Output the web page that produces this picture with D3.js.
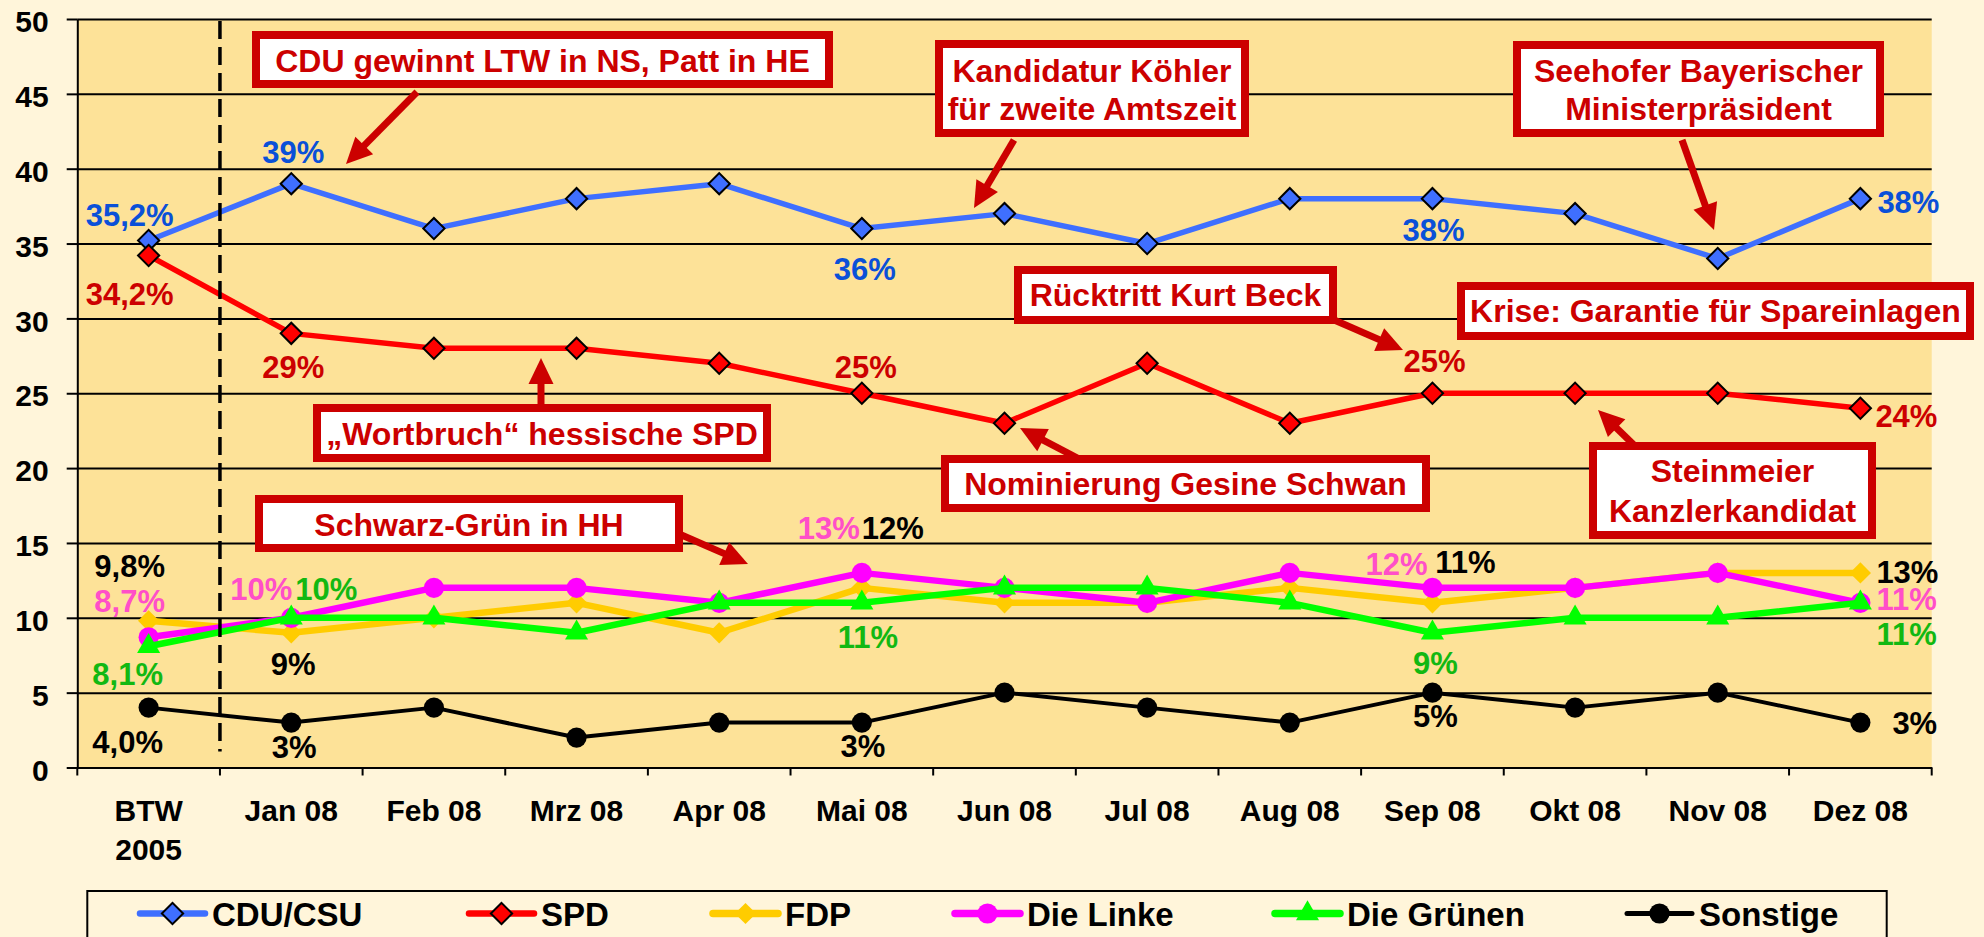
<!DOCTYPE html>
<html>
<head>
<meta charset="utf-8">
<script src="https://cdn.jsdelivr.net/npm/d3@7"></script>
<style>
  body { margin: 0; background: #FFF5DA; }
  svg { display: block; font-family: "Liberation Sans", Arial, sans-serif; font-weight: bold; }
</style>
</head>
<body>
<svg id="chart" width="1984" height="937"></svg>
<script>
// --- data ---
const categories = ["BTW\n2005", "Jan 08", "Feb 08", "Mrz 08", "Apr 08", "Mai 08", "Jun 08",
                    "Jul 08", "Aug 08", "Sep 08", "Okt 08", "Nov 08", "Dez 08"];
const yTicks = [0, 5, 10, 15, 20, 25, 30, 35, 40, 45, 50];

const cduCsu   = [35.2, 39, 36, 38, 39, 36, 37, 35, 38, 38, 37, 34, 38];
const spd      = [34.2, 29, 28, 28, 27, 25, 23, 27, 23, 25, 25, 25, 24];
const fdp      = [9.8, 9, 10, 11, 9, 12, 11, 11, 12, 11, 12, 13, 13];
const dieLinke = [8.7, 10, 12, 12, 11, 13, 12, 11, 13, 12, 12, 13, 11];
const gruene   = [8.1, 10, 10, 9, 11, 11, 12, 12, 11, 9, 10, 10, 11];
const sonstige = [4.0, 3, 4, 2, 3, 3, 5, 4, 3, 5, 4, 5, 3];

const seriesNames = ["CDU/CSU", "SPD", "FDP", "Die Linke", "Die Grünen", "Sonstige"];

const W = 1984, H = 937;
const PLOT = { left: 77.3, right: 1931.7, top: 19, bottom: 767.5 };

// styles per series
const series = [
  { name: seriesNames[0], values: cduCsu,   color: '#3F6FFF', label: '#0A50D8', width: 5.5, marker: 'diamond', stroke: '#000' },
  { name: seriesNames[1], values: spd,      color: '#FF0000', label: '#CC0000', width: 5.5, marker: 'diamond', stroke: '#000' },
  { name: seriesNames[2], values: fdp,      color: '#FFCC00', label: '#000000', width: 6.5, marker: 'diamond', stroke: 'none' },
  { name: seriesNames[3], values: dieLinke, color: '#FF00FF', label: '#FF4FC8', width: 6.5, marker: 'circle',  stroke: 'none' },
  { name: seriesNames[4], values: gruene,   color: '#00FF00', label: '#12B812', width: 6.5, marker: 'triangle', stroke: 'none' },
  { name: seriesNames[5], values: sonstige, color: '#000000', label: '#000000', width: 4,   marker: 'circle',  stroke: 'none' }
];

// value label placement: [series index, category index, dx, dy, anchor]
const labelLayout = [
  [0, 0, -19, -15, 'middle'], [0, 1, 2, -21, 'middle'], [0, 5, 3, 51, 'middle'], [0, 9, 1, 42, 'middle'], [0, 12, 17, 14, 'start'],
  [1, 0, -19, 49, 'middle'], [1, 1, 2, 45, 'middle'], [1, 5, 4, -15, 'middle'], [1, 9, 2, -21, 'middle'], [1, 12, 15, 19, 'start'],
  [2, 0, -19, -44, 'middle'], [2, 1, 2, 42, 'middle'], [2, 5, 31, -49, 'middle'], [2, 9, 33, -30, 'middle'], [2, 12, 16, 10, 'start'],
  [3, 0, -19, -25, 'middle'], [3, 1, -30, -17.5, 'middle'], [3, 5, -33, -34, 'middle'], [3, 9, -36, -13, 'middle'], [3, 12, 16, 7, 'start'],
  [4, 0, -21, 39, 'middle'], [4, 1, 35, -17.5, 'middle'], [4, 5, 6, 45.5, 'middle'], [4, 9, 3, 41, 'middle'], [4, 12, 16, 42, 'start'],
  [5, 0, -21, 45, 'middle'], [5, 1, 3, 35, 'middle'], [5, 5, 1, 34, 'middle'], [5, 9, 3, 34, 'middle'], [5, 12, 32, 11, 'start']
];

// annotation boxes: outer box [x0, y0, x1, y1], text lines, baselines
const notes = [
  { box: [252, 31, 833, 88],    lines: ["CDU gewinnt LTW in NS, Patt in HE"], base: [71.5] },
  { box: [935, 40, 1249, 137],  lines: ["Kandidatur Köhler", "für zweite Amtszeit"], base: [81.5, 119.5] },
  { box: [1513, 41, 1884, 137], lines: ["Seehofer Bayerischer", "Ministerpräsident"], base: [81.5, 119.5] },
  { box: [1014, 266, 1337, 324], lines: ["Rücktritt Kurt Beck"], base: [306] },
  { box: [1457, 282, 1974, 340], lines: ["Krise: Garantie für Spareinlagen"], base: [322] },
  { box: [313, 404, 771, 462],  lines: ["\u201EWortbruch\u201C hessische SPD"], base: [444.5] },
  { box: [255, 495, 683, 552],  lines: ["Schwarz-Grün in HH"], base: [536] },
  { box: [941, 455, 1430, 512], lines: ["Nominierung Gesine Schwan"], base: [495] },
  { box: [1589, 442, 1876, 539], lines: ["Steinmeier", "Kanzlerkandidat"], base: [482, 521.5] }
];
// arrows: tail -> tip
const arrows = [
  [417, 92, 346, 164], [1014, 140, 974, 208], [1682, 140, 1714, 230], [1325, 316, 1403, 350],
  [541, 410, 541, 358], [670, 530, 748, 564], [1085, 462, 1020, 428], [1635, 446, 1598, 410]
];
const legendX = [140, 469, 713, 955, 1275, 1627];

const svg = d3.select('#chart');
svg.append('rect').attr('width', W).attr('height', H).attr('fill', '#FFF5DA');

const x = d3.scaleBand().domain(categories).range([PLOT.left, PLOT.right]);
const xc = c => x(c) + x.bandwidth() / 2;
const y = d3.scaleLinear().domain([0, 50]).range([PLOT.bottom, PLOT.top]);

svg.append('rect')
  .attr('x', PLOT.left).attr('y', PLOT.top)
  .attr('width', PLOT.right - PLOT.left).attr('height', PLOT.bottom - PLOT.top)
  .attr('fill', '#FDE298');

// gridlines
const grid = svg.append('g').attr('transform', `translate(${PLOT.left},0)`)
  .call(d3.axisLeft(y).tickValues(yTicks).tickSize(-(PLOT.right - PLOT.left)).tickFormat(''));
grid.select('.domain').remove();
grid.selectAll('line').attr('stroke', '#000').attr('stroke-width', 2);

// y axis
const yAxis = svg.append('g').attr('transform', `translate(${PLOT.left},0)`)
  .call(d3.axisLeft(y).tickValues(yTicks).tickSize(10.6).tickSizeOuter(0).tickPadding(18));
yAxis.select('.domain').attr('stroke', '#000').attr('stroke-width', 2);
yAxis.selectAll('line').attr('stroke', '#000').attr('stroke-width', 2);
yAxis.selectAll('text').attr('font-size', 30).attr('font-family', null).attr('dy', '0.42em').attr('fill', '#000');

// x axis
const xAxis = svg.append('g').attr('transform', `translate(0,${PLOT.bottom})`)
  .call(d3.axisBottom(x).tickSize(0).tickPadding(0));
xAxis.select('.domain').attr('stroke', '#000').attr('stroke-width', 2);
xAxis.selectAll('text').attr('font-family', null).attr('font-size', 30).attr('fill', '#000')
  .attr('dy', null).attr('y', 53)
  .each(function(d) {
    const t = d3.select(this);
    const parts = d.split('\n');
    t.text(null);
    parts.forEach((p, i) => t.append('tspan').attr('x', 0).attr('dy', i ? 39 : 0).text(p));
  });
const bounds = categories.map(c => x(c)).concat([PLOT.right]);
svg.append('g').selectAll('line').data(bounds).join('line')
  .attr('x1', d => d).attr('x2', d => d)
  .attr('y1', PLOT.bottom).attr('y2', PLOT.bottom + 8)
  .attr('stroke', '#000').attr('stroke-width', 2);

// markers
function markerPath(type) {
  if (type === 'diamond') return d3.symbol(d3.symbolSquare, 225)();
  if (type === 'triangle') return d3.symbol(d3.symbolTriangle, 230)();
  return d3.symbol(d3.symbolCircle, 320)();
}
function markerRotate(type) { return type === 'diamond' ? ' rotate(45)' : ''; }

const line = d3.line().x((d, i) => xc(categories[i])).y(d => y(d));

series.forEach(s => {
  const g = svg.append('g');
  g.append('path').datum(s.values)
    .attr('d', line).attr('fill', 'none')
    .attr('stroke', s.color).attr('stroke-width', s.width).attr('stroke-linejoin', 'round');
  g.selectAll('path.m').data(s.values).join('path').attr('class', 'm')
    .attr('d', markerPath(s.marker))
    .attr('transform', (d, i) => `translate(${xc(categories[i])},${y(d)})` + markerRotate(s.marker))
    .attr('fill', s.color)
    .attr('stroke', s.stroke).attr('stroke-width', 2);
});

// dashed separator between BTW and 2008
svg.append('line')
  .attr('x1', x(categories[1])).attr('x2', x(categories[1]))
  .attr('y1', PLOT.top + 2).attr('y2', PLOT.bottom - 16)
  .attr('stroke', '#000').attr('stroke-width', 3.5).attr('stroke-dasharray', '18,8');

// value labels
const fmt = (v, i) => (i === 0 ? d3.format('.1f')(v).replace('.', ',') : d3.format('d')(v)) + '%';
svg.append('g').selectAll('text').data(labelLayout).join('text')
  .attr('x', d => xc(categories[d[1]]) + d[2])
  .attr('y', d => y(series[d[0]].values[d[1]]) + d[3])
  .attr('text-anchor', d => d[4])
  .attr('font-size', 31)
  .attr('fill', d => series[d[0]].label)
  .text(d => fmt(series[d[0]].values[d[1]], d[1]));

// arrows
const red = '#CC0000';
const ag = svg.append('g');
arrows.forEach(a => {
  const [x1, y1, x2, y2] = a;
  const len = Math.hypot(x2 - x1, y2 - y1);
  const ux = (x2 - x1) / len, uy = (y2 - y1) / len;
  const L = 26, hw = 12.5;
  const bx = x2 - ux * L, by = y2 - uy * L;
  ag.append('line').attr('x1', x1).attr('y1', y1).attr('x2', bx + ux * 2).attr('y2', by + uy * 2)
    .attr('stroke', red).attr('stroke-width', 7);
  ag.append('path')
    .attr('d', `M${x2},${y2}L${bx - uy * hw},${by + ux * hw}L${bx + uy * hw},${by - ux * hw}Z`)
    .attr('fill', red);
});

// annotation boxes
const ng = svg.append('g');
notes.forEach(n => {
  const [x0, y0, x1, y1] = n.box;
  ng.append('rect')
    .attr('x', x0 + 4).attr('y', y0 + 4)
    .attr('width', x1 - x0 - 8).attr('height', y1 - y0 - 8)
    .attr('fill', '#fff').attr('stroke', red).attr('stroke-width', 8);
  n.lines.forEach((t, i) => {
    ng.append('text').attr('x', (x0 + x1) / 2).attr('y', n.base[i])
      .attr('text-anchor', 'middle').attr('font-size', 32).attr('fill', red).text(t);
  });
});

// legend
const lg = svg.append('g');
lg.append('rect').attr('x', 87.3).attr('y', 891).attr('width', 1799.4).attr('height', 80)
  .attr('fill', 'none').attr('stroke', '#000').attr('stroke-width', 2);
series.forEach((s, i) => {
  const lx = legendX[i], ly = 913.5;
  lg.append('line').attr('x1', lx).attr('x2', lx + 65).attr('y1', ly).attr('y2', ly)
    .attr('stroke', s.color).attr('stroke-width', s.width + 1).attr('stroke-linecap', 'round');
  lg.append('path').attr('d', markerPath(s.marker))
    .attr('transform', `translate(${lx + 32.5},${ly})` + markerRotate(s.marker))
    .attr('fill', s.color).attr('stroke', s.stroke).attr('stroke-width', 2);
  lg.append('text').attr('x', lx + 72).attr('y', ly + 12.5)
    .attr('font-size', 33).attr('fill', '#000').text(s.name);
});
</script>
</body>
</html>
